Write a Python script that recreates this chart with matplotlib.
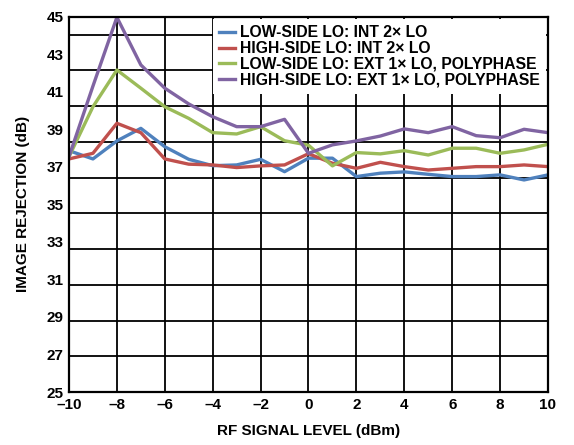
import matplotlib.pyplot as plt
import numpy as np

plt.rcParams['font.family'] = ['Liberation Sans', 'DejaVu Sans']
plt.rcParams['font.weight'] = 'bold'

# RF signal level (dBm)
rf_level = [-10, -9, -8, -7, -6, -5, -4, -3, -2, -1, 0, 1, 2, 3, 4, 5, 6, 7, 8, 9, 10]

# image rejection (dB) for each configuration
low_int = [37.86, 37.42, 38.38, 39.05, 38.07, 37.4, 37.06, 37.1, 37.4, 36.74, 37.46,
           37.46, 36.48, 36.66, 36.73, 36.6, 36.48, 36.48, 36.57, 36.3, 36.57]
high_int = [37.42, 37.72, 39.32, 38.82, 37.42, 37.14, 37.1, 36.96, 37.05, 37.1, 37.7,
            37.19, 36.92, 37.24, 37.01, 36.83, 36.92, 37.01, 37.01, 37.1, 37.01]
low_ext = [37.54, 40.2, 42.16, 41.19, 40.2, 39.58, 38.82, 38.75, 39.14, 38.39, 38.15,
           37.05, 37.76, 37.69, 37.86, 37.63, 37.99, 37.99, 37.72, 37.9, 38.2]
high_ext = [37.54, 41.3, 44.97, 42.43, 41.19, 40.35, 39.67, 39.14, 39.14, 39.53, 37.72,
            38.17, 38.38, 38.64, 39.02, 38.82, 39.14, 38.66, 38.55, 39.0, 38.82]

labels = ['LOW-SIDE LO: INT 2\u00d7 LO',
          'HIGH-SIDE LO: INT 2\u00d7 LO',
          'LOW-SIDE LO: EXT 1\u00d7 LO, POLYPHASE',
          'HIGH-SIDE LO: EXT 1\u00d7 LO, POLYPHASE']
colors = ['#4F81BD', '#C0504D', '#9BBB59', '#8064A2']

fig = plt.figure(figsize=(5.74, 4.45), dpi=100)
ax = fig.add_axes([0.1202, 0.1191, 0.8345, 0.8434])

# grid (horizontal lines are not aligned with the labels in the original)
for k in range(1, 11):
    ax.axhline(25 + k * 40 / 21, color='black', lw=1.3, zorder=1)
for xv in range(-8, 10, 2):
    ax.axvline(xv, color='black', lw=1.3, zorder=1)

for ys, c, lab in zip([low_int, high_int, low_ext, high_ext], colors, labels):
    ax.plot(rf_level, ys, color=c, lw=2.4, label=lab, zorder=3)

ax.set_xlim(-10, 10)
ax.set_ylim(25, 45)
ax.set_xticks(range(-10, 11, 2))
ax.set_xticklabels([str(v).replace('-', '\u2013') for v in range(-10, 11, 2)],
                   fontweight='bold')
ax.set_yticks(range(25, 46, 2))
ax.set_yticklabels([str(v) for v in range(25, 46, 2)], fontweight='bold')
ax.tick_params(length=0, labelsize=11, pad=4)
for s in ax.spines.values():
    s.set_linewidth(1.6)
    s.set_zorder(4)

ax.set_xlabel('RF SIGNAL LEVEL (dBm)', fontsize=11, fontweight='bold', labelpad=9)
ax.set_ylabel('IMAGE REJECTION (dB)', fontsize=11, fontweight='bold', labelpad=12)

leg = ax.legend(loc='upper right', prop={'size': 11.3, 'weight': 'bold'},
                frameon=True, framealpha=1, edgecolor='none', fancybox=False,
                handlelength=1.0, handletextpad=0.3, labelspacing=0.05,
                borderpad=0.4, borderaxespad=0.15)
leg.set_zorder(5)

plt.savefig('out.png', dpi=100)
